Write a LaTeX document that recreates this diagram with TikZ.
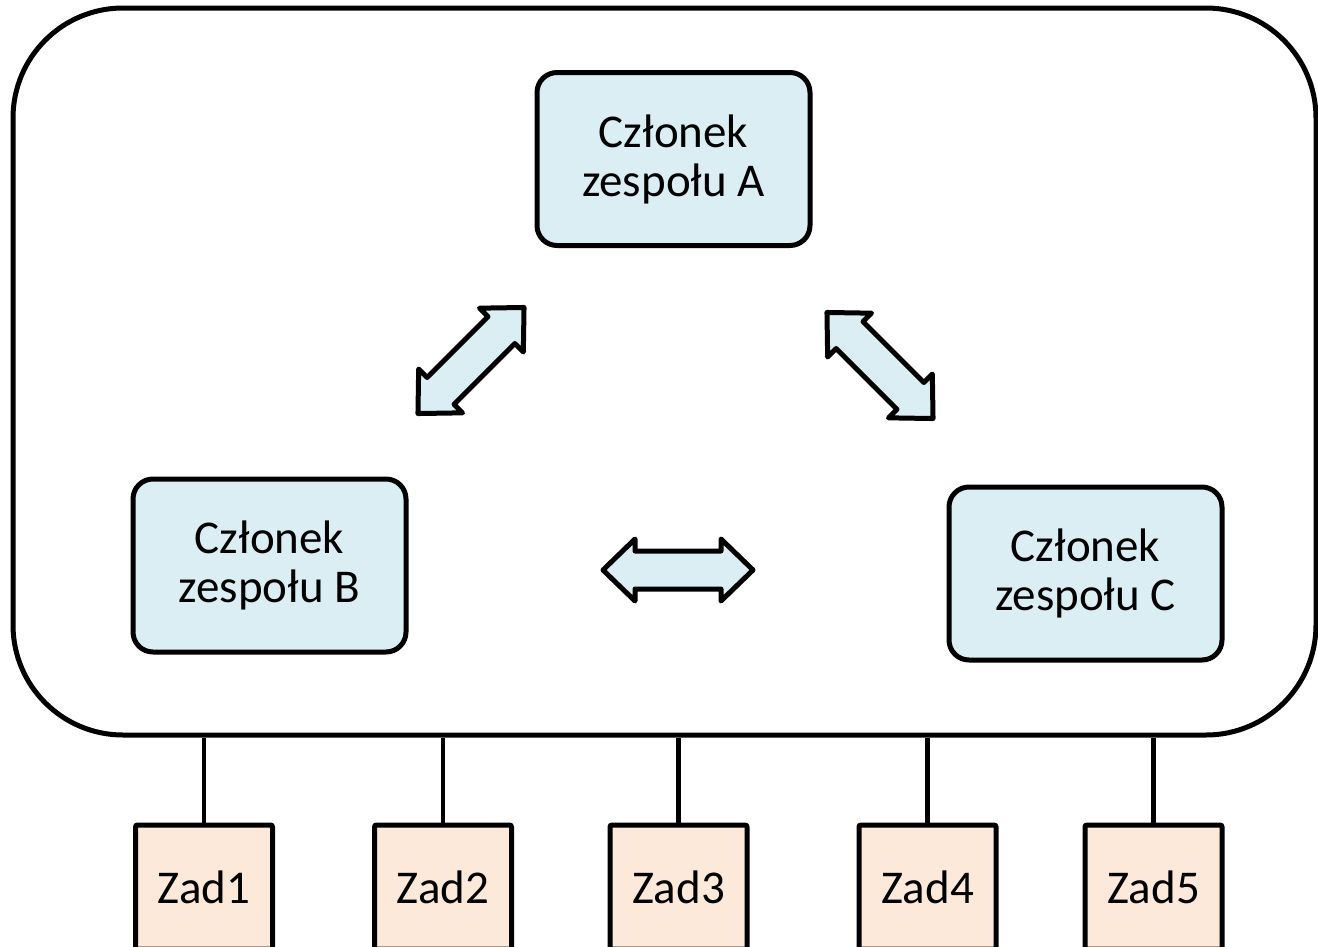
\documentclass[tikz,border=0pt]{standalone}
\usepackage{fontspec}
\setmainfont{Carlito}

\definecolor{memberblue}{HTML}{DAEEF3}
\definecolor{taskorange}{HTML}{FDE9D9}

% block double arrow: centre, angle
\newcommand{\twoway}[2]{%
\draw[line width=5, line join=round, fill=memberblue, shift={(#1)}, rotate=#2]
  (-75,0) -- (-43,31) -- (-43,19) -- (43,19) -- (43,31) -- (75,0)
  -- (43,-31) -- (43,-19) -- (-43,-19) -- (-43,-31) -- cycle;}

\begin{document}
\begin{tikzpicture}[x=1pt, y=-1pt,
  txt/.style={font=\fontsize{47}{49}\selectfont},
  member/.style={txt, draw, line width=5, fill=memberblue, rounded corners=20,
    minimum width=273, minimum height=173, align=center},
  task/.style={txt, draw, line width=5, fill=taskorange, rounded corners=2,
    minimum width=137, minimum height=124},
  link/.style={line width=4.5}]

\useasboundingbox (0,0) rectangle (1318,946);
\clip (0,0) rectangle (1318,946);

\node (team) at (664.5,371.5) [draw, line width=5, rounded corners=110,
  minimum width=1303, minimum height=727] {};

\node (memA) at (673.5,159) [member] {Członek\\zespołu A};
\node (memB) at (269.5,565.5) [member] {Członek\\zespołu B};
\node (memC) at (1085.5,573.5) [member] {Członek\\zespołu C};

\twoway{471,360.5}{45}
\twoway{880,365.5}{-45}
\twoway{678,570}{0}

\node (zad1) at (204,887) [task] {Zad1};
\node (zad2) at (443,887) [task] {Zad2};
\node (zad3) at (678.5,887) [task] {Zad3};
\node (zad4) at (927.5,887) [task] {Zad4};
\node (zad5) at (1153.5,887) [task] {Zad5};

\foreach \i in {1,...,5}
  \draw[link] (zad\i.north) -- (zad\i.north |- team.south);

\end{tikzpicture}
\end{document}
